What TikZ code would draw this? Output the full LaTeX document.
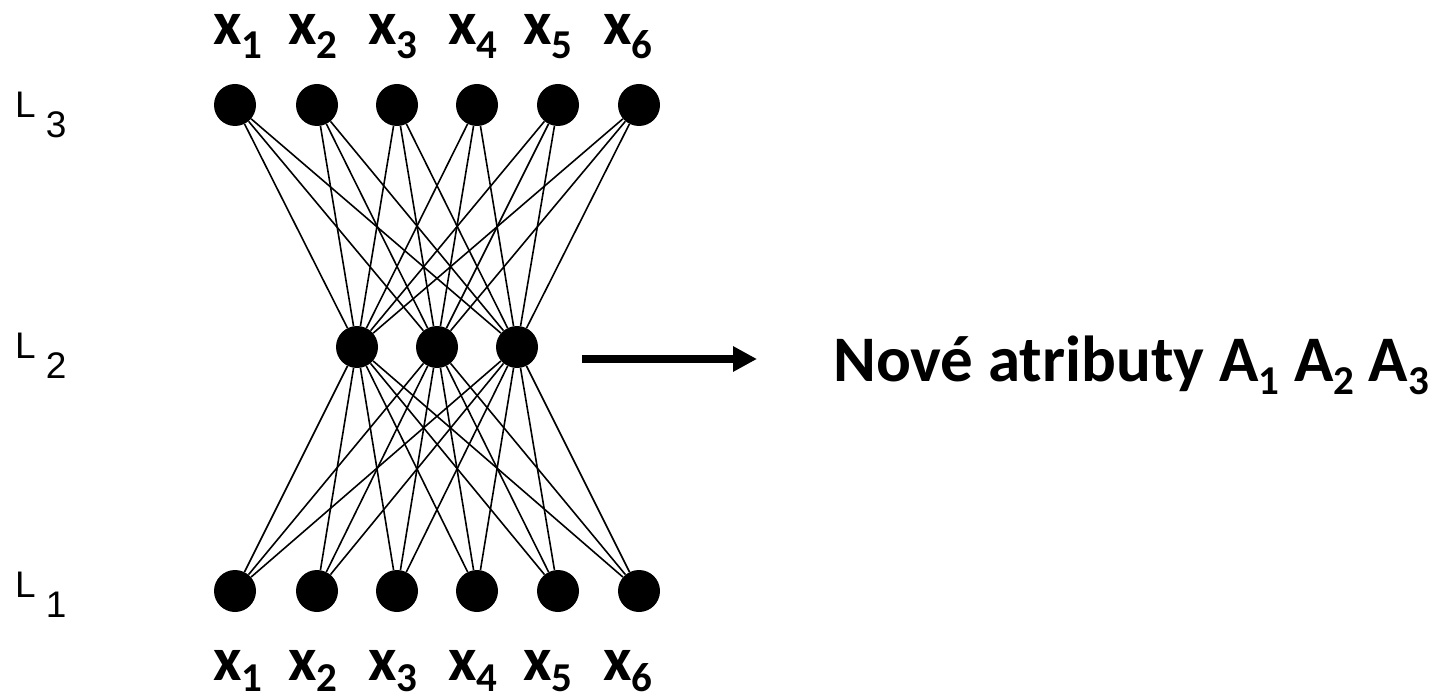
\documentclass[tikz,border=0pt]{standalone}
\usepackage{fontspec}
\setmainfont{Carlito}
\newfontfamily\layerfont{Liberation Sans}
\usetikzlibrary{arrows.meta}
% lowered, smaller index after a letter: #1 = drop, #2 = index
\newcommand\lsub[2]{\raisebox{-#1pt}{\fontsize{41}{41}\selectfont #2}}
\begin{document}
\begin{tikzpicture}[x=1pt,y=-1pt,
  unit/.style={circle,fill=black,inner sep=0pt,minimum size=42pt},
  wire/.style={line width=1.6pt,black},
  varlabel/.style={anchor=base west,inner sep=0pt,font=\fontsize{62}{62}\selectfont\bfseries},
  caption/.style={anchor=base west,inner sep=0pt,font=\fontsize{65}{65}\selectfont\bfseries},
  layerlabel/.style={anchor=base west,inner sep=0pt,font=\fontsize{37}{37}\selectfont\layerfont},
]
\useasboundingbox (0,0) rectangle (1439,700);

% units of the three layers
\foreach \i/\x in {1/235,2/317,3/397,4/477,5/558,6/639} {
  \node[unit] (t\i) at (\x,105) {};
  \node[unit] (b\i) at (\x,591) {};
}
\foreach \j/\x in {1/357,2/437,3/517}
  \node[unit] (m\j) at (\x,347) {};

% full connections to the hidden layer
\foreach \i in {1,...,6}
  \foreach \j in {1,2,3} {
    \draw[wire] (t\i) -- (m\j);
    \draw[wire] (b\i) -- (m\j);
  }

% variable names above and below
\foreach \i/\x in {1/213,2/288,3/368,4/448,5/523,6/603} {
  \node[varlabel] (tx\i) at (\x,45) {x\lsub{14}{\i}};
  \node[varlabel] (bx\i) at (\x,680) {x\lsub{11}{\i}};
}

% layer names
\node[layerlabel] (L3) at (15,118) {L\hspace{10pt}\raisebox{-20pt}{3}};
\node[layerlabel] (L2) at (15,358) {L\hspace{10pt}\raisebox{-20pt}{2}};
\node[layerlabel] (L1) at (15,597) {L\hspace{10pt}\raisebox{-20pt}{1}};

% output arrow and caption
\coordinate (a0) at (582,359);
\coordinate (a1) at (757,359);
\draw[line width=8pt,-{Triangle[length=24pt,width=24pt]}] (a0) -- (a1);
\node[caption] (newattr) at (833,381) {Nové atributy A\lsub{13}{1} A\lsub{13}{2} A\lsub{13}{3}};
\end{tikzpicture}
\end{document}
